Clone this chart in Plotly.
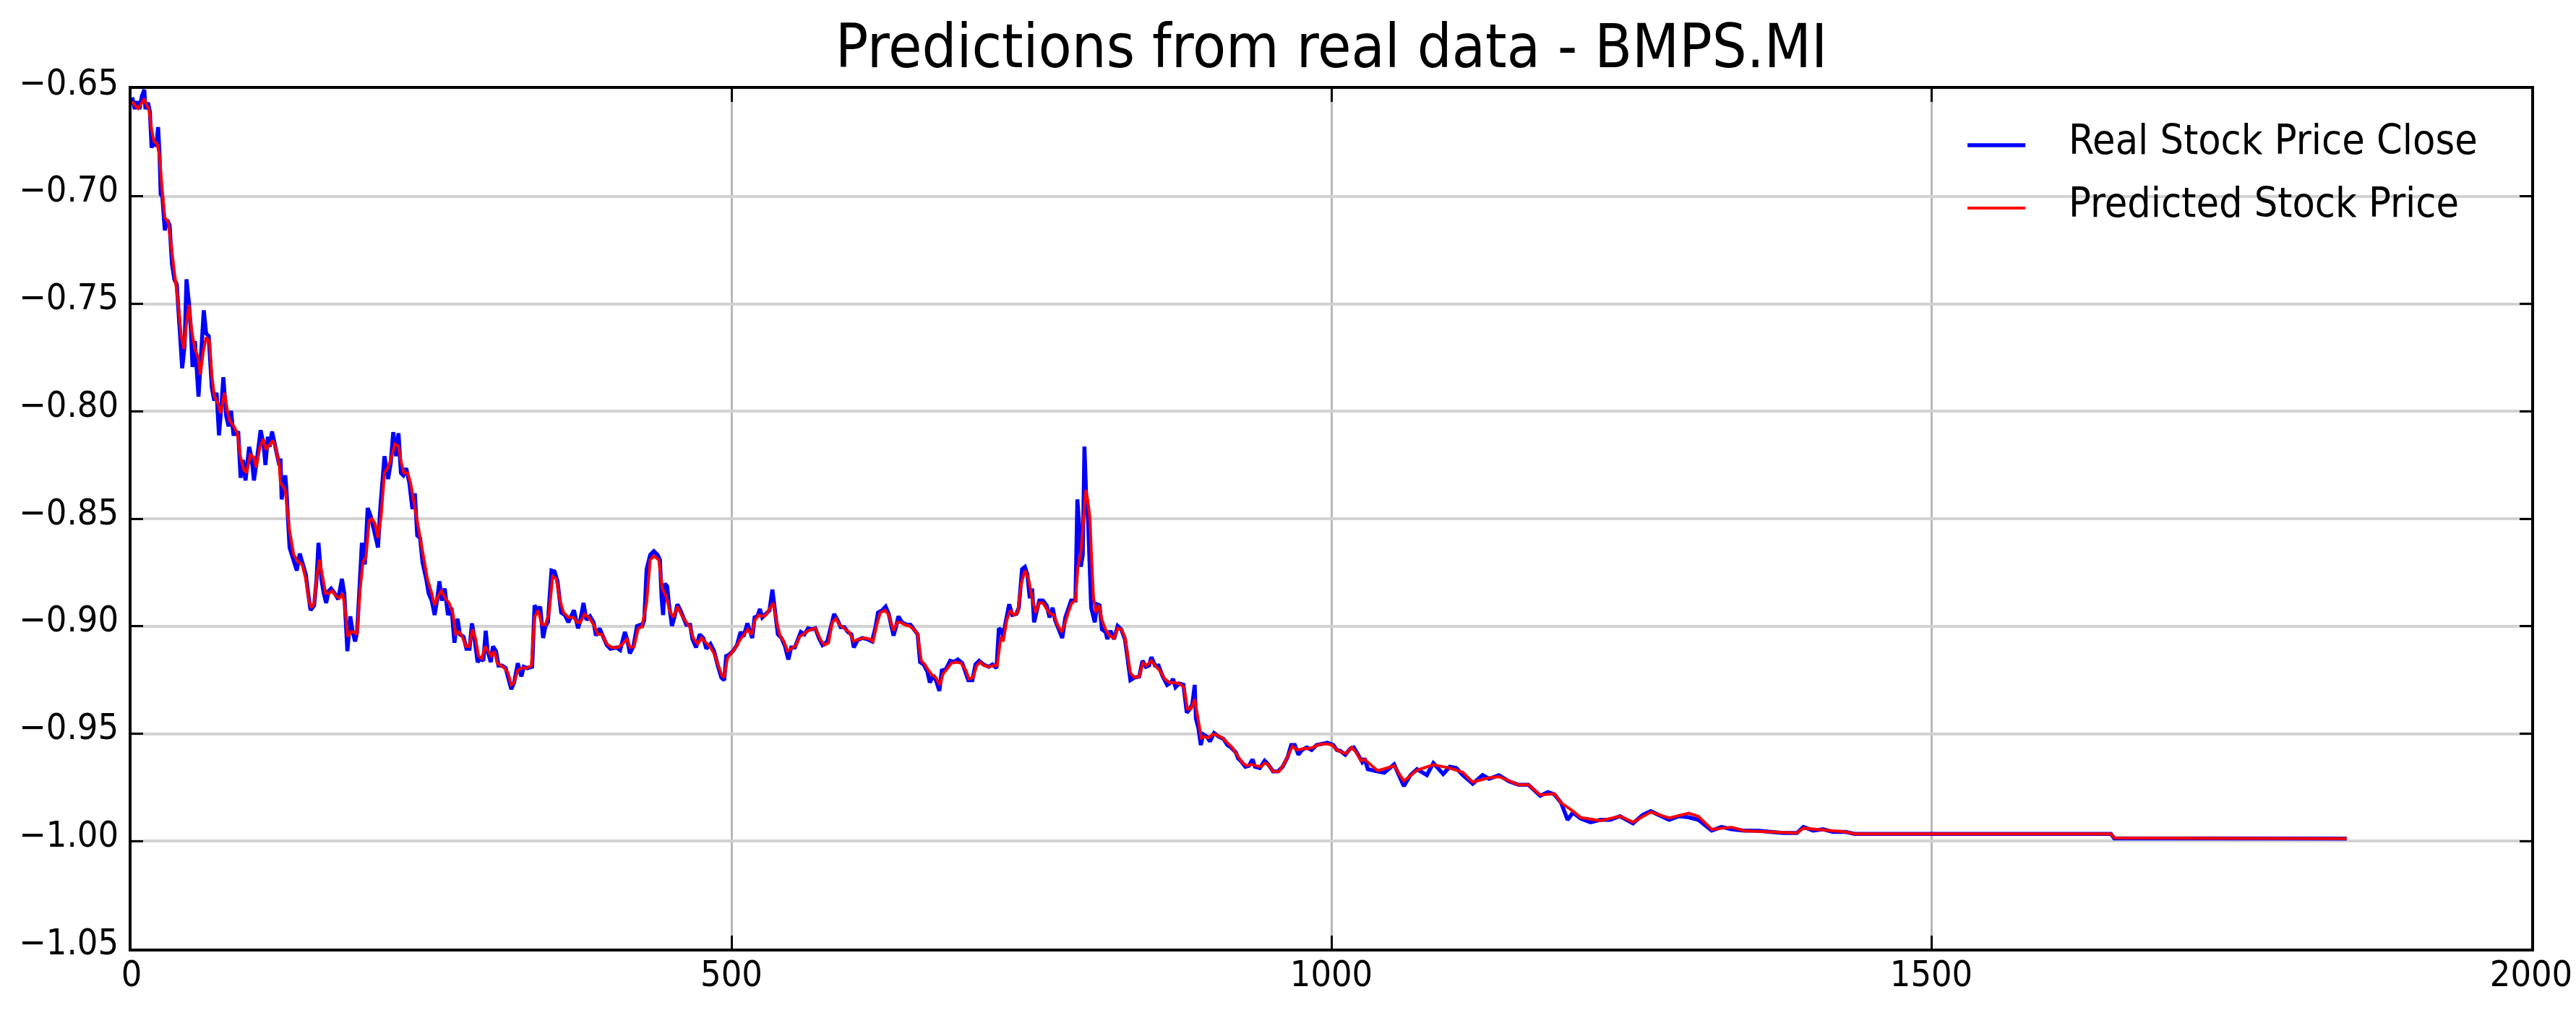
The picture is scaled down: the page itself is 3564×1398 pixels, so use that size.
import plotly.graph_objects as go

# values (index along x, normalised price on y)
real_x = [
    0.6, 2.6, 4.6, 6.6, 8.6, 10.6, 11.6, 13.7, 15.3, 16.7, 18.7, 20.7, 22.1, 23.3, 24.3, 25.7,
    27.7, 29.7, 31.7, 33.7, 35.7, 37.7, 39.8, 42.2, 44.2, 45.8, 47.8, 49.4, 50.8, 52.8, 55.8,
    57.8, 60.2, 62.2, 64.3, 66.9, 68.9, 70.9, 72.9, 74.9, 76.5, 78.9, 80.9, 82.9, 84.9, 86.9,
    88.9, 90.9, 92.9, 95.0, 98.0, 100.0, 102.0, 105.0, 107.6, 110.0, 111.6, 113.6, 115.0,
    117.1, 120.1, 123.1,
    124.1, 125.1, 128.1, 129.1, 131.7, 135.2, 137.7, 140.2, 142.2, 145.2, 147.2, 149.2, 152.2,
    154.2, 155.8, 158.2, 160.2, 162.2, 164.3, 166.3, 169.3, 172.3, 175.3, 177.3, 179.9, 182.3,
    184.3, 186.3, 188.0, 190.0, 192.0, 194.4, 196.8, 199.4, 202.0, 205.4, 207.4, 210.8, 213.8,
    216.0, 218.1, 220.5, 222.5, 224.5, 226.5, 228.9, 231.5, 234.1, 236.1, 238.1, 240.5, 242.5,
    245.6, 247.6, 250.2, 252.6, 254.6, 256.6, 258.6, 261.0, 263.7, 266.7, 269.1, 271.7, 273.7,
    276.7, 279.1, 281.7, 283.7, 285.7, 288.4, 290.8, 293.2, 295.2, 296.8, 299.4, 301.2, 303.8,
    305.8, 308.8, 311.8, 314.4, 316.5, 318.9, 321.9, 324.9, 326.9, 329.9, 333.9, 335.9, 338.6,
    340.6, 343.0, 345.0, 347.0, 350.0, 352.6, 355.0, 358.1, 361.1, 364.1, 368.7, 372.1, 374.1,
    376.7, 379.1, 382.1, 385.1, 387.1, 390.1, 393.1, 396.1, 399.1, 404.2, 407.2, 411.2, 413.3,
    415.3, 418.3, 421.3, 424.3,
    425.3, 427.3, 429.3, 432.3, 435.3, 438.4, 440.4, 441.8, 443.0, 444.4, 446.4, 447.8, 450.4,
    452.4, 455.0, 457.4, 460.4, 462.4, 465.5, 467.5, 470.5, 473.5, 476.5, 479.1, 482.5, 485.5,
    488.6, 491.6, 494.0, 495.6, 498.0, 501.2, 504.6, 507.6, 510.0, 513.3, 515.3, 517.3, 519.3,
    521.7, 523.7, 525.7, 528.7, 531.7, 534.1, 536.1, 538.7, 541.7, 544.7, 547.4, 549.8, 552.8,
    555.8, 557.8, 560.8, 563.9, 566.9, 569.9, 572.9, 575.9, 579.9, 583.0, 585.5, 588.4, 591.0,
    594.0, 597.0, 600.0, 602.0, 605.0, 609.0, 613.0, 617.1, 620.1, 622.1, 625.7, 628.5, 631.1,
    633.1, 635.1, 637.1, 639.1, 642.2, 646.2, 649.2, 652.2, 655.2, 657.2, 660.2, 663.3, 665.3,
    668.3, 670.7, 673.3, 675.3, 678.7, 682.3, 685.3, 688.7, 692.4, 695.4, 697.4, 700.8, 703.4,
    706.4, 710.0, 714.5, 717.5, 720.9, 722.9, 725.5,
    726.5, 728.5, 731.5, 734.1, 737.5, 739.5, 742.2, 744.6, 746.6, 748.6, 750.6, 752.2, 754.6,
    756.6, 759.6, 762.7, 765.1, 767.7, 769.7, 772.7, 775.7, 778.3, 780.7, 783.1, 786.7, 788.3,
    790.4, 791.2, 792.8, 794.2, 795.8, 797.2, 799.8, 802.8, 804.8, 806.8, 808.8, 811.8, 813.3,
    815.9, 818.9, 821.9, 824.9, 827.9, 829.9, 832.5, 835.9, 839.9, 842.6, 845.4, 848.0, 850.0,
    853.0, 856.0, 859.0, 863.1, 866.1, 868.1, 870.1, 873.1, 876.7, 879.5, 882.1, 884.1, 886.1,
    887.1, 889.2, 891.2, 893.2, 896.2, 898.8, 902.2, 906.2, 910.2, 913.3, 916.3, 920.3, 922.3,
    925.3, 928.3, 931.3, 934.3, 936.3, 940.4, 944.4, 947.4, 951.4, 955.4, 959.4, 963.5, 966.5,
    969.5, 972.5, 975.5, 979.5, 983.5, 987.6, 991.6, 996.6, 1001.6, 1004.6, 1007.6, 1011.6,
    1015.7, 1018.7, 1021.7, 1025.7,
    1027.7, 1030.4, 1038.6, 1044.1, 1052.3, 1060.4, 1065.9, 1071.4, 1079.6, 1085.0, 1093.2,
    1098.7, 1104.1, 1109.6, 1117.8, 1126.0, 1131.4, 1139.6, 1147.8, 1156.0, 1164.2, 1174.0,
    1180.5, 1186.0, 1191.5, 1196.9, 1201.3, 1207.8, 1216.0, 1224.2, 1232.4, 1240.5, 1251.4,
    1259.6, 1266.2, 1273.3, 1281.5, 1289.7, 1297.9, 1306.0, 1317.0, 1325.2, 1333.4, 1344.3,
    1355.2, 1366.1, 1377.0, 1388.0, 1393.4, 1401.6, 1409.8, 1418.0, 1428.9, 1436.0, 1649.7,
    1652.5, 1846.2,
]
real_y = [
    -0.6540, -0.6594, -0.6558, -0.6594, -0.6534, -0.6504, -0.6594, -0.6564, -0.6606, -0.6774,
    -0.6738, -0.6768, -0.6678, -0.6798, -0.6990, -0.7002, -0.7158, -0.7110, -0.7134, -0.7314,
    -0.7386, -0.7410, -0.7590, -0.7800, -0.7698, -0.7386, -0.7494, -0.7614, -0.7794, -0.7674,
    -0.7932, -0.7710, -0.7530, -0.7638, -0.7650, -0.7890, -0.7950, -0.7914, -0.8112, -0.7974,
    -0.7842, -0.8022, -0.8070, -0.7998, -0.8106, -0.8106, -0.8094, -0.8310, -0.8226, -0.8322,
    -0.8166, -0.8214, -0.8322, -0.8202, -0.8088, -0.8154, -0.8250, -0.8118, -0.8166, -0.8094,
    -0.8178, -0.8250,
    -0.8220, -0.8410, -0.8298, -0.8366, -0.8634, -0.8691, -0.8741, -0.8662, -0.8702, -0.8758,
    -0.8847, -0.8926, -0.8903, -0.8780, -0.8612, -0.8780, -0.8847, -0.8892, -0.8836, -0.8825,
    -0.8847, -0.8875, -0.8780, -0.8847, -0.9116, -0.8954, -0.9027, -0.9071, -0.9027, -0.8780,
    -0.8612, -0.8713, -0.8450, -0.8489, -0.8556, -0.8634, -0.8444, -0.8209, -0.8315, -0.8242,
    -0.8097, -0.8209, -0.8102, -0.8287, -0.8298, -0.8265, -0.8332, -0.8455, -0.8382, -0.8578,
    -0.8590, -0.8702, -0.8780, -0.8847, -0.8881, -0.8948, -0.8881, -0.8791, -0.8881, -0.8825,
    -0.8948, -0.8914, -0.9077, -0.8965, -0.9038, -0.9049, -0.9105, -0.9105, -0.8987, -0.9049,
    -0.9167, -0.9150, -0.9161, -0.9021, -0.9116, -0.9167, -0.9094, -0.9116, -0.9183, -0.9183,
    -0.9195, -0.9251, -0.9293, -0.9262, -0.9172, -0.9234, -0.9189, -0.9195, -0.9189, -0.8903,
    -0.8926, -0.8909, -0.9055, -0.8999, -0.8982, -0.8741, -0.8746, -0.8791, -0.8937, -0.8948,
    -0.8982, -0.8926, -0.9010, -0.8971, -0.8892, -0.8971, -0.8954, -0.8982, -0.9044, -0.9010,
    -0.9049, -0.9088, -0.9105, -0.9099, -0.9111, -0.9027, -0.9066, -0.9127, -0.9094, -0.8999,
    -0.8993,
    -0.9004, -0.8971, -0.8735, -0.8668, -0.8651, -0.8668, -0.8691, -0.8870, -0.8948, -0.8802,
    -0.8814, -0.8892, -0.8999, -0.8959, -0.8898, -0.8926, -0.8971, -0.8993, -0.8993, -0.9060,
    -0.9099, -0.9038, -0.9055, -0.9105, -0.9083, -0.9116, -0.9183, -0.9239, -0.9251, -0.9139,
    -0.9133, -0.9116, -0.9088, -0.9027, -0.9049, -0.8987, -0.9021, -0.9055, -0.8959, -0.8954,
    -0.8920, -0.8959, -0.8943, -0.8926, -0.8830, -0.8914, -0.9038, -0.9055, -0.9094, -0.9155,
    -0.9099, -0.9099, -0.9060, -0.9027, -0.9038, -0.9010, -0.9015, -0.9010, -0.9055, -0.9088,
    -0.9071, -0.8993, -0.8943, -0.8971, -0.9004, -0.9004, -0.9027, -0.9038, -0.9099, -0.9066,
    -0.9055, -0.9060, -0.9071, -0.9004, -0.8937, -0.8926, -0.8909, -0.8943, -0.8993, -0.9044,
    -0.9004, -0.8954, -0.8982, -0.8993, -0.8993, -0.9015, -0.9038, -0.9167, -0.9178, -0.9212,
    -0.9262, -0.9228, -0.9256, -0.9301, -0.9206, -0.9200, -0.9161, -0.9167, -0.9155, -0.9172,
    -0.9217, -0.9251, -0.9251, -0.9178, -0.9161, -0.9178, -0.9189, -0.9178, -0.9195, -0.9010,
    -0.9021,
    -0.9049, -0.8982, -0.8898, -0.8948, -0.8943, -0.8914, -0.8735, -0.8724, -0.8758, -0.8870,
    -0.8825, -0.8982, -0.8914, -0.8881, -0.8881, -0.8903, -0.8959, -0.8914, -0.8971, -0.9015,
    -0.9055, -0.8959, -0.8926, -0.8881, -0.8881, -0.8410, -0.8578, -0.8724, -0.8668, -0.8164,
    -0.8422, -0.8500, -0.8914, -0.8982, -0.8898, -0.8903, -0.9015, -0.9027, -0.9060, -0.9021,
    -0.9060, -0.8999, -0.9015, -0.9060, -0.9139, -0.9251, -0.9239, -0.9234, -0.9161, -0.9189,
    -0.9183, -0.9144, -0.9183, -0.9183, -0.9228, -0.9273, -0.9262, -0.9245, -0.9284, -0.9267,
    -0.9273, -0.9402, -0.9385, -0.9363, -0.9273, -0.9430, -0.9475, -0.9553, -0.9503, -0.9514,
    -0.9536, -0.9497, -0.9514, -0.9525, -0.9553, -0.9564, -0.9587, -0.9615, -0.9632, -0.9654,
    -0.9649, -0.9620, -0.9654, -0.9660, -0.9626, -0.9643, -0.9676, -0.9676, -0.9654, -0.9609,
    -0.9553, -0.9553, -0.9598, -0.9576, -0.9564, -0.9576, -0.9553, -0.9548, -0.9542, -0.9553,
    -0.9576, -0.9581, -0.9598, -0.9570, -0.9564, -0.9592, -0.9632,
    -0.9615, -0.9665, -0.9676, -0.9682, -0.9643, -0.9744, -0.9693, -0.9665, -0.9693, -0.9637,
    -0.9688, -0.9654, -0.9660, -0.9693, -0.9733, -0.9693, -0.9710, -0.9693, -0.9721, -0.9738,
    -0.9738, -0.9789, -0.9772, -0.9783, -0.9822, -0.9901, -0.9867, -0.9895, -0.9912, -0.9901,
    -0.9901, -0.9884, -0.9917, -0.9878, -0.9861, -0.9878, -0.9901, -0.9884, -0.9889, -0.9901,
    -0.9951, -0.9934, -0.9945, -0.9951, -0.9951, -0.9957, -0.9962, -0.9962, -0.9934, -0.9951,
    -0.9945, -0.9957, -0.9957, -0.9966, -0.9966, -0.9987, -0.9988,
]

pred_x = [
    0.6, 2.6, 5.6, 8.6, 10.6, 12.6, 14.7, 16.7, 18.7, 21.3, 23.3, 25.3, 27.7, 30.7, 32.7, 35.7,
    38.8, 41.4, 43.8, 45.8, 47.8, 50.2, 52.8, 55.4, 57.4, 59.8, 62.2, 64.9, 66.9, 68.9, 71.9,
    74.3, 77.5, 79.9, 81.9, 85.9, 88.3, 90.9, 93.6, 96.0, 99.0, 102.0, 104.0, 107.0, 110.0,
    112.0, 115.0, 117.7, 120.5, 123.1,
    124.1, 128.1, 131.7, 135.2, 139.1, 142.2, 145.2, 147.8, 149.8, 152.2, 154.2, 156.6, 159.2,
    161.8, 164.3, 167.3, 170.3, 173.3, 175.9, 177.9, 180.3, 182.7, 185.3, 188.0, 190.4, 192.8,
    195.4, 198.0, 200.4, 203.0, 205.4, 208.0, 210.8, 213.4, 216.4, 219.5, 222.5, 224.5, 226.9,
    230.1, 232.5, 234.9, 237.5, 240.5, 243.6, 246.6, 250.2, 252.6, 255.6, 258.2, 261.6, 264.7,
    267.7, 270.3, 273.1, 275.7, 278.7, 281.3, 284.3, 286.8, 289.2, 291.8, 294.8, 297.2, 299.8,
    302.4, 304.8, 307.8, 310.8, 313.8, 316.5, 318.9, 321.9, 324.9, 328.9, 333.3, 335.9, 338.9,
    342.0, 345.0, 348.0, 351.0, 354.0, 357.1, 360.1, 364.1, 368.1, 371.5, 374.1, 377.5, 381.1,
    385.1, 388.7, 392.1, 396.1, 400.2, 405.2, 409.2, 412.9, 415.7, 418.9, 422.3,
    425.3, 429.3, 432.3, 435.3, 439.4, 442.4, 445.4, 448.4, 451.4, 455.0, 458.4, 462.4, 465.5,
    468.5, 471.9, 475.1, 478.5, 482.5, 485.5, 489.2, 492.0, 494.0, 496.6, 499.6, 503.6, 507.6,
    510.6, 513.7, 516.7, 519.7, 522.7, 525.7, 528.7, 531.7, 534.7, 537.8, 540.8, 543.8, 546.8,
    549.8, 553.8, 556.8, 559.8, 563.9, 566.9, 569.9, 573.9, 577.5, 581.0, 584.0, 587.0, 590.0,
    594.0, 598.0, 602.0, 606.0, 611.0, 615.1, 618.1, 621.1, 624.1, 628.1, 631.1, 635.1, 638.2,
    641.2, 644.2, 648.2, 652.2, 655.2, 658.2, 661.2, 664.3, 667.3, 670.3, 673.9, 676.3, 679.9,
    683.3, 687.3, 691.4, 695.4, 698.0, 701.4, 704.4, 707.4, 710.4, 714.5, 718.5, 721.5, 724.5,
    726.5, 729.5, 732.5, 735.5, 738.6, 741.6, 744.6, 747.6, 750.6, 753.6, 756.6, 759.6, 762.7,
    765.7, 768.7, 771.7, 775.1, 777.7, 780.7, 783.7, 786.7, 788.8, 791.2, 793.4, 795.4, 797.2,
    798.8, 800.2, 801.8, 803.8, 806.4, 808.8, 811.8, 814.9, 818.9, 821.9, 824.9, 827.9, 829.9,
    832.5, 835.9, 839.9, 842.9, 845.9, 850.0, 853.0, 857.0, 861.0, 865.1, 869.1, 873.1, 877.1,
    880.1, 883.1, 886.1, 889.2, 891.6, 894.2, 897.2, 901.2, 905.2, 909.2, 913.3, 917.3, 921.3,
    925.3, 929.3, 933.3, 937.3, 941.4, 944.4, 947.4, 951.4, 956.4, 960.4, 964.5, 967.5, 971.5,
    976.5, 980.5, 984.5, 988.6, 992.6, 996.6, 1000.6, 1004.6, 1008.6, 1012.6, 1016.7, 1020.7,
    1024.7,
    1027.7, 1038.6, 1052.3, 1060.4, 1071.4, 1085.0, 1098.7, 1109.6, 1117.8, 1131.4, 1139.6,
    1156.0, 1164.2, 1174.0, 1186.0, 1191.5, 1201.3, 1207.8, 1224.2, 1240.5, 1251.4, 1266.2,
    1281.5, 1297.9, 1306.0, 1317.0, 1333.4, 1344.3, 1366.1, 1388.0, 1393.4, 1409.8, 1428.9,
    1436.0, 1649.7, 1652.5, 1846.2,
]
pred_y = [
    -0.6558, -0.6576, -0.6591, -0.6564, -0.6546, -0.6576, -0.6600, -0.6690, -0.6744, -0.6756,
    -0.6810, -0.6954, -0.7098, -0.7122, -0.7218, -0.7362, -0.7494, -0.7650, -0.7710, -0.7590,
    -0.7506, -0.7626, -0.7710, -0.7746, -0.7830, -0.7722, -0.7656, -0.7674, -0.7830, -0.7926,
    -0.7962, -0.8010, -0.7914, -0.7998, -0.8046, -0.8076, -0.8106, -0.8214, -0.8274, -0.8286,
    -0.8202, -0.8214, -0.8262, -0.8166, -0.8130, -0.8178, -0.8154, -0.8136, -0.8178, -0.8250,
    -0.8332, -0.8366, -0.8556, -0.8668, -0.8702, -0.8713, -0.8780, -0.8881, -0.8914, -0.8892,
    -0.8780, -0.8691, -0.8769, -0.8847, -0.8847, -0.8836, -0.8859, -0.8870, -0.8847, -0.8914,
    -0.9049, -0.9027, -0.9027, -0.9038, -0.8836, -0.8702, -0.8679, -0.8511, -0.8500, -0.8523,
    -0.8590, -0.8489, -0.8287, -0.8265, -0.8220, -0.8153, -0.8164, -0.8231, -0.8287, -0.8287,
    -0.8332, -0.8410, -0.8489, -0.8590, -0.8691, -0.8780, -0.8847, -0.8903, -0.8859, -0.8836,
    -0.8870, -0.8892, -0.8937, -0.9038, -0.9027, -0.9049, -0.9094, -0.9094, -0.9015, -0.9060,
    -0.9139, -0.9150, -0.9094, -0.9116, -0.9139, -0.9116, -0.9172, -0.9183, -0.9195, -0.9217,
    -0.9273, -0.9262, -0.9206, -0.9195, -0.9195, -0.9183, -0.8959, -0.8926, -0.8993, -0.8993,
    -0.8937, -0.8769, -0.8780, -0.8881, -0.8937, -0.8959, -0.8959, -0.8982, -0.8982, -0.8943,
    -0.8959, -0.8993, -0.9038, -0.9038, -0.9083, -0.9099, -0.9099, -0.9083, -0.9060, -0.9099,
    -0.9094, -0.9010,
    -0.9004, -0.8892, -0.8691, -0.8674, -0.8691, -0.8825, -0.8859, -0.8926, -0.8959, -0.8909,
    -0.8948, -0.8982, -0.9004, -0.9060, -0.9083, -0.9055, -0.9077, -0.9099, -0.9127, -0.9183,
    -0.9228, -0.9239, -0.9150, -0.9127, -0.9099, -0.9060, -0.9038, -0.9015, -0.9038, -0.8971,
    -0.8948, -0.8954, -0.8948, -0.8920, -0.8892, -0.8982, -0.9049, -0.9071, -0.9116, -0.9105,
    -0.9088, -0.9049, -0.9038, -0.9021, -0.9015, -0.9010, -0.9060, -0.9088, -0.9077, -0.8982,
    -0.8965, -0.8993, -0.9010, -0.9027, -0.9071, -0.9060, -0.9055, -0.9060, -0.9071, -0.8993,
    -0.8937, -0.8926, -0.8948, -0.9021, -0.8982, -0.8982, -0.8993, -0.8999, -0.9015, -0.9038,
    -0.9161, -0.9178, -0.9206, -0.9228, -0.9239, -0.9273, -0.9223, -0.9195, -0.9172, -0.9167,
    -0.9172, -0.9206, -0.9245, -0.9239, -0.9183, -0.9167, -0.9183, -0.9189, -0.9183, -0.9183,
    -0.9049,
    -0.9071, -0.8971, -0.8926, -0.8948, -0.8937, -0.8802, -0.8741, -0.8780, -0.8870, -0.8937,
    -0.8892, -0.8892, -0.8920, -0.8943, -0.8948, -0.8993, -0.9027, -0.8993, -0.8937, -0.8892,
    -0.8881, -0.8724, -0.8657, -0.8500, -0.8366, -0.8422, -0.8500, -0.8691, -0.8870, -0.8937,
    -0.8903, -0.8971, -0.9015, -0.9044, -0.9055, -0.9010, -0.9015, -0.9049, -0.9116, -0.9217,
    -0.9239, -0.9234, -0.9172, -0.9183, -0.9161, -0.9183, -0.9206, -0.9245, -0.9262, -0.9262,
    -0.9267, -0.9284, -0.9385, -0.9385, -0.9340, -0.9452, -0.9520, -0.9514, -0.9520, -0.9503,
    -0.9508, -0.9520, -0.9542, -0.9564, -0.9598, -0.9632, -0.9649, -0.9643, -0.9649, -0.9654,
    -0.9637, -0.9643, -0.9676, -0.9676, -0.9643, -0.9598, -0.9559, -0.9576, -0.9570, -0.9570,
    -0.9564, -0.9553, -0.9548, -0.9548, -0.9553, -0.9576, -0.9587, -0.9592, -0.9564, -0.9587,
    -0.9626,
    -0.9620, -0.9672, -0.9650, -0.9720, -0.9670, -0.9645, -0.9660, -0.9680, -0.9725, -0.9705,
    -0.9700, -0.9738, -0.9738, -0.9785, -0.9780, -0.9822, -0.9860, -0.9890, -0.9905, -0.9884,
    -0.9912, -0.9865, -0.9892, -0.9870, -0.9885, -0.9945, -0.9935, -0.9952, -0.9957, -0.9962,
    -0.9940, -0.9948, -0.9957, -0.9966, -0.9966, -0.9985, -0.9988,
]

x_ticks = [0, 500, 1000, 1500, 2000]
y_ticks = [-0.65, -0.70, -0.75, -0.80, -0.85, -0.90, -0.95, -1.00, -1.05]
series_names = ["Real Stock Price Close", "Predicted Stock Price"]
series_colors = ["#0000ff", "#ff0000"]
series_widths = [5.5, 4]

FONT = "DejaVu Sans Condensed, DejaVu Sans, sans-serif"

fig = go.Figure()
fig.add_trace(go.Scatter(x=real_x, y=real_y, mode="lines", name=series_names[0],
                         line=dict(color=series_colors[0], width=series_widths[0]),
                         showlegend=False))
fig.add_trace(go.Scatter(x=pred_x, y=pred_y, mode="lines", name=series_names[1],
                         line=dict(color=series_colors[1], width=series_widths[1]),
                         showlegend=False))

# matplotlib-style legend: long line samples, no frame
for i, (name, color, w) in enumerate(zip(series_names, series_colors, series_widths)):
    ly = 0.9345 - i * 0.0732
    fig.add_shape(type="line", xref="paper", yref="paper", x0=0.7651, x1=0.7892, y0=ly, y1=ly,
                  line=dict(color=color, width=w))
    fig.add_annotation(xref="paper", yref="paper", x=0.8066, y=ly + 0.007, text=name,
                       showarrow=False, xanchor="left", yanchor="middle",
                       font=dict(family=FONT, size=57, color="black"))

fig.update_layout(
    width=3564, height=1398,
    margin=dict(l=174, r=70, t=115, b=93),
    paper_bgcolor="white", plot_bgcolor="white",
    title=dict(text="Predictions from real data - BMPS.MI", x=0.5, xref="paper",
               y=0.96, yref="container", xanchor="center", yanchor="middle",
               font=dict(family=FONT, size=84, color="black")),
    font=dict(family=FONT, color="black"),
)
fig.update_xaxes(
    range=[0, 2000], tickvals=x_ticks, ticktext=[str(v) for v in x_ticks],
    showgrid=True, gridcolor="#b8b8b8", gridwidth=2.5,
    showline=True, linecolor="black", linewidth=4, mirror="ticks",
    ticks="inside", ticklen=18, tickwidth=3, tickcolor="black",
    tickfont=dict(family=FONT, size=50, color="black"), ticklabelstandoff=-12,
    zeroline=False, automargin=False,
)
fig.update_yaxes(
    range=[-1.05, -0.65], tickvals=y_ticks,
    ticktext=["\u2212%.2f" % abs(v) for v in y_ticks],
    showgrid=True, gridcolor="#d2d2d2", gridwidth=4,
    showline=True, linecolor="black", linewidth=4, mirror="ticks",
    ticks="inside", ticklen=16, tickwidth=3, tickcolor="black",
    tickfont=dict(family=FONT, size=50, color="black"), ticklabelstandoff=4,
    ticklabelshift=-10,
    zeroline=False, automargin=False,
)

fig.write_html("out.html")
